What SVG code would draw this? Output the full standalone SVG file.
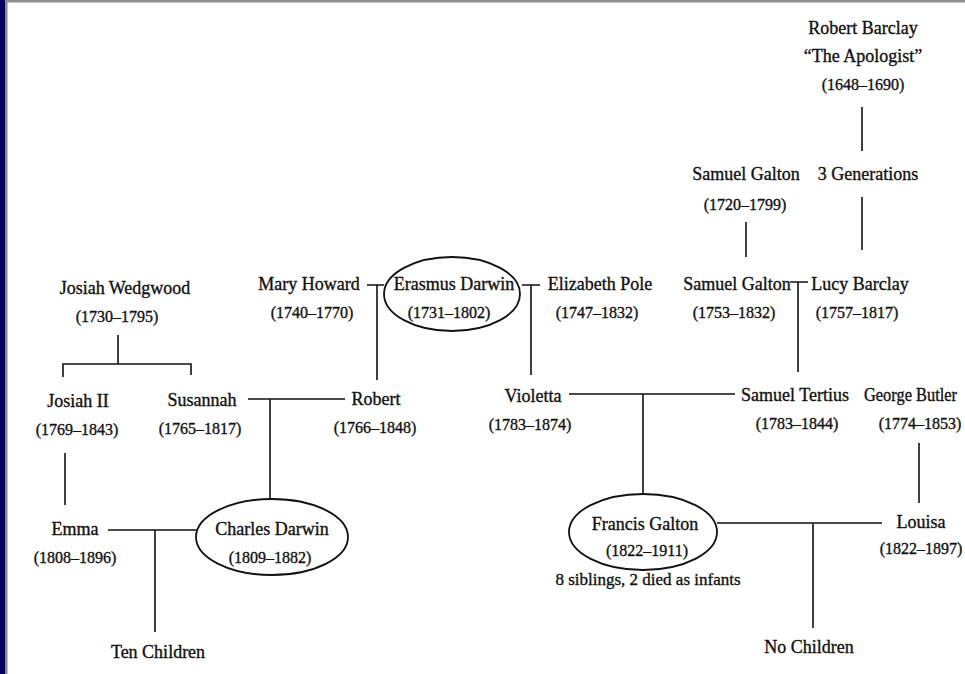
<svg xmlns="http://www.w3.org/2000/svg" width="965" height="674" viewBox="0 0 965 674">
<style>
text{font-family:"Liberation Serif","Times New Roman",serif;fill:#111;stroke:#111;stroke-width:0.35;text-anchor:middle;font-size:18px}
.d{font-size:16px}
.ln{stroke:#111;stroke-width:1.6;fill:none}
.ring{stroke:#111;stroke-width:1.8;fill:none}
</style>
<rect x="0" y="0" width="965" height="674" fill="#ffffff"/>
<rect x="0" y="0" width="5" height="674" fill="#000060"/>
<rect x="5" y="0" width="2.5" height="674" fill="#8a8a8e"/>
<rect x="5" y="0" width="960" height="2.5" fill="#8e8e8e"/>

<g id="connectors" class="ln">
  <path d="M862 107V151"/>
  <path d="M862 197V250"/>
  <path d="M746 222V257"/>
  <path d="M790 282H808M798 282V372"/>
  <path d="M522 285H540M531 285V375"/>
  <path d="M367 285H384M377 285V380"/>
  <path d="M118 335V364M63 377V364H191V375"/>
  <path d="M248 399H345M270 399V499"/>
  <path d="M65 453V505"/>
  <path d="M108 530H197M155 530V632"/>
  <path d="M569 394H735M643 394V494"/>
  <path d="M919 443V503"/>
  <path d="M717 523H882M813 523V628"/>
</g>

<g id="robert-barclay">
  <text x="863" y="34">Robert Barclay</text>
  <text x="863" y="62">“The Apologist”</text>
  <text x="863" y="90" class="d">(1648–1690)</text>
</g>
<g id="three-generations"><text x="868" y="180">3 Generations</text></g>
<g id="samuel-galton-1720">
  <text x="746" y="180">Samuel Galton</text>
  <text x="745" y="210" class="d">(1720–1799)</text>
</g>
<g id="samuel-galton-1753">
  <text x="737" y="290">Samuel Galton</text>
  <text x="734" y="318" class="d">(1753–1832)</text>
</g>
<g id="lucy-barclay">
  <text x="860" y="290">Lucy Barclay</text>
  <text x="857" y="318" class="d">(1757–1817)</text>
</g>
<g id="elizabeth-pole">
  <text x="600" y="290">Elizabeth Pole</text>
  <text x="597" y="318" class="d">(1747–1832)</text>
</g>
<g id="erasmus-darwin">
  <ellipse class="ring" cx="452" cy="294" rx="68" ry="37"/>
  <text x="454" y="290">Erasmus Darwin</text>
  <text x="449" y="318" class="d">(1731–1802)</text>
</g>
<g id="mary-howard">
  <text x="309" y="290">Mary Howard</text>
  <text x="312" y="318" class="d">(1740–1770)</text>
</g>
<g id="josiah-wedgwood">
  <text x="125" y="294">Josiah Wedgwood</text>
  <text x="117" y="322" class="d">(1730–1795)</text>
</g>
<g id="josiah-ii">
  <text x="78" y="407">Josiah II</text>
  <text x="77" y="435" class="d">(1769–1843)</text>
</g>
<g id="susannah">
  <text x="202" y="406">Susannah</text>
  <text x="200" y="434" class="d">(1765–1817)</text>
</g>
<g id="robert">
  <text x="376" y="405">Robert</text>
  <text x="375" y="433" class="d">(1766–1848)</text>
</g>
<g id="emma">
  <text x="75" y="535">Emma</text>
  <text x="75" y="563" class="d">(1808–1896)</text>
</g>
<g id="charles-darwin">
  <ellipse class="ring" cx="272" cy="537" rx="76" ry="38"/>
  <text x="272" y="535">Charles Darwin</text>
  <text x="270" y="563" class="d">(1809–1882)</text>
</g>
<g id="ten-children"><text x="158" y="658">Ten Children</text></g>
<g id="violetta">
  <text x="533" y="402">Violetta</text>
  <text x="530" y="430" class="d">(1783–1874)</text>
</g>
<g id="samuel-tertius">
  <text x="795" y="401">Samuel Tertius</text>
  <text x="797" y="429" class="d">(1783–1844)</text>
</g>
<g id="george-butler">
  <text x="864" y="401" style="text-anchor:start" textLength="93" lengthAdjust="spacingAndGlyphs">George Butler</text>
  <text x="920" y="429" class="d">(1774–1853)</text>
</g>
<g id="francis-galton">
  <ellipse class="ring" cx="643" cy="532" rx="74" ry="38"/>
  <text x="645" y="530">Francis Galton</text>
  <text x="647" y="556" class="d">(1822–1911)</text>
  <text x="648" y="585" style="font-size:17px">8 siblings, 2 died as infants</text>
</g>
<g id="louisa">
  <text x="921" y="528">Louisa</text>
  <text x="921" y="554" class="d">(1822–1897)</text>
</g>
<g id="no-children"><text x="809" y="653">No Children</text></g>
</svg>
